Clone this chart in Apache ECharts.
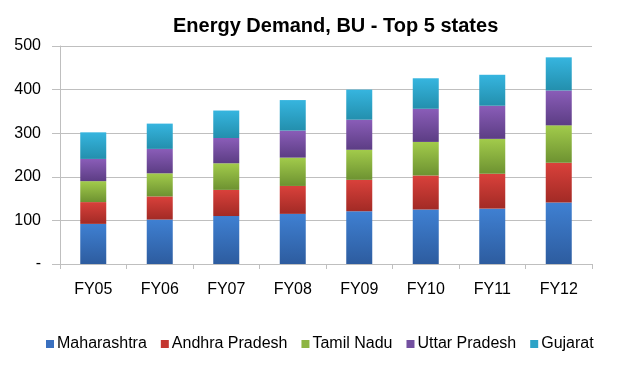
<!DOCTYPE html>
<html>
<head>
<meta charset="utf-8">
<script src="https://cdn.jsdelivr.net/npm/echarts@6/dist/echarts.min.js"></script>
<style>html,body{margin:0;padding:0;background:#fff}#c{width:630px;height:378px}</style>
</head>
<body>
<div id="c"></div>
<script>
var categories = ['FY05','FY06','FY07','FY08','FY09','FY10','FY11','FY12'];
var maharashtra = [92, 102, 110, 115, 121, 125, 127, 141];
var andhraPradesh = [50, 53, 60, 64, 72, 78, 80, 91];
var tamilNadu = [48, 53, 61, 65, 69, 77, 80, 86];
var uttarPradesh = [51, 56, 58, 62, 69, 76, 76, 80];
var gujarat = [61, 58, 63, 70, 69, 70, 71, 76];
var yTicks = [0, 100, 200, 300, 400, 500];

function grad(top, bottom) {
  return new echarts.graphic.LinearGradient(0, 0, 0, 1, [
    {offset: 0, color: top}, {offset: 1, color: bottom}
  ]);
}
var seriesDefs = [
  {name: 'Maharashtra', data: maharashtra, top: '#3F80D2', bottom: '#2D5C9F', legend: '#3A70BF'},
  {name: 'Andhra Pradesh', data: andhraPradesh, top: '#D9413B', bottom: '#A22A25', legend: '#C43731'},
  {name: 'Tamil Nadu', data: tamilNadu, top: '#A2CB4B', bottom: '#6D9231', legend: '#8DB543'},
  {name: 'Uttar Pradesh', data: uttarPradesh, top: '#8A5DB8', bottom: '#5C3D84', legend: '#7350A0'},
  {name: 'Gujarat', data: gujarat, top: '#36B5DF', bottom: '#238FAD', legend: '#2DA3C7'}
];

var chart = echarts.init(document.getElementById('c'), null, {renderer: 'canvas'});
chart.setOption({
  animation: false,
  backgroundColor: '#ffffff',
  title: {
    text: 'Energy Demand, BU - Top 5 states',
    left: 168, top: 11,
    textStyle: {fontFamily: 'Liberation Sans, Arial, sans-serif', fontWeight: 'bold', fontSize: 20, color: '#000'}
  },
  legend: {
    left: 41, top: 331,
    itemWidth: 8, itemHeight: 8, itemGap: 14,
    icon: 'rect',
    textStyle: {fontFamily: 'Liberation Sans, Arial, sans-serif', fontSize: 16, color: '#000', padding: [0, 0, 0, -2]},
    data: seriesDefs.map(function (s) { return {name: s.name, itemStyle: {color: s.legend}}; })
  },
  grid: {left: 60, right: 38, top: 46, bottom: 114, containLabel: false},
  xAxis: {
    type: 'category',
    data: categories,
    axisLine: {lineStyle: {color: '#BFBFBF', width: 1}},
    axisTick: {show: true, length: 5, lineStyle: {color: '#BFBFBF'}},
    axisLabel: {fontFamily: 'Liberation Sans, Arial, sans-serif', fontSize: 16, color: '#000', margin: 18}
  },
  yAxis: {
    type: 'value',
    min: yTicks[0], max: yTicks[yTicks.length - 1], interval: 100,
    axisLine: {show: true, lineStyle: {color: '#BFBFBF', width: 1}},
    axisTick: {show: true, length: 8, lineStyle: {color: '#BFBFBF'}},
    splitLine: {lineStyle: {color: '#BFBFBF', width: 1}},
    axisLabel: {
      fontFamily: 'Liberation Sans, Arial, sans-serif', fontSize: 16, color: '#000', margin: 19,
      formatter: function (v) { return v === 0 ? '-' : String(v); }
    }
  },
  series: seriesDefs.map(function (s) {
    return {
      name: s.name, type: 'bar', stack: 'total', barWidth: 26,
      data: s.data,
      itemStyle: {color: grad(s.top, s.bottom)}
    };
  })
});
</script>
</body>
</html>
